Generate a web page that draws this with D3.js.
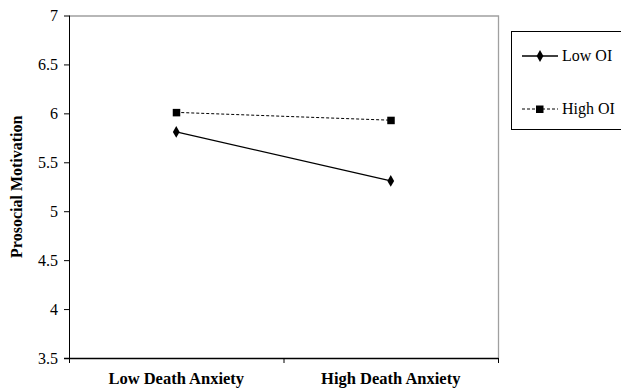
<!DOCTYPE html>
<html>
<head>
<meta charset="utf-8">
<script src="https://cdn.jsdelivr.net/npm/d3@7"></script>
<style>
  body { margin: 0; background: #fff; }
  svg { display: block; font-family: "Liberation Serif", "Times New Roman", serif; }
</style>
</head>
<body>
<div id="chart"></div>
<script>
// data
var categories = ["Low Death Anxiety", "High Death Anxiety"];
var lowOI = [5.81, 5.31];
var highOI = [6.01, 5.93];
var yTicks = [3.5, 4, 4.5, 5, 5.5, 6, 6.5, 7];
var seriesNames = ["Low OI", "High OI"];

var W = 621, H = 391;
var margin = {top: 15.5, left: 69, right: 123, bottom: 33};
var width = W - margin.left - margin.right,
    height = H - margin.top - margin.bottom;

var svg = d3.select("#chart").append("svg")
    .attr("width", W)
    .attr("height", H);

var g = svg.append("g")
    .attr("transform", "translate(" + margin.left + "," + margin.top + ")");

var x = d3.scaleBand().domain(categories).range([0, width]);
var y = d3.scaleLinear().domain([3.5, 7]).range([height, 0]);

// top / right frame in grey
g.append("path")
    .attr("d", "M0,0.5H" + (width + 0.5) + "V" + height)
    .attr("fill", "none")
    .attr("stroke", "#a0a0a0")
    .attr("stroke-width", 1.3);

// y axis
g.append("g")
    .call(d3.axisLeft(y).tickValues(yTicks).tickSize(5).tickPadding(6).tickFormat(d3.format("")))
    .call(g => g.select(".domain").attr("stroke", "#000").attr("d", "M0.5,0V" + height))
    .call(g => g.selectAll(".tick line").attr("stroke", "#000"))
    .call(g => g.selectAll(".tick text").attr("fill", "#000").style("font-size", "16px").style("font-family", "Liberation Serif"));

// x axis, ticks between categories
var xAx = g.append("g").attr("transform", "translate(0," + height + ")");
xAx.append("line")
    .attr("x1", -5).attr("x2", width + 0.5)
    .attr("y1", 0.5).attr("y2", 0.5)
    .attr("stroke", "#000").attr("stroke-width", 1.3);
xAx.selectAll(".xt")
    .data(d3.range(categories.length + 1))
    .enter().append("line")
    .attr("class", "xt")
    .attr("x1", d => d * x.step() + 0.5)
    .attr("x2", d => d * x.step() + 0.5)
    .attr("y1", 0).attr("y2", 5)
    .attr("stroke", "#000");
xAx.selectAll(".xl")
    .data(categories)
    .enter().append("text")
    .attr("x", d => x(d) + x.bandwidth() / 2)
    .attr("y", 26)
    .attr("text-anchor", "middle")
    .style("font-size", "16.5px")
    .style("font-weight", "bold")
    .text(d => d);

// y title
svg.append("text")
    .attr("transform", "translate(22," + (margin.top + height / 2) + ") rotate(-90)")
    .attr("text-anchor", "middle")
    .style("font-size", "16px")
    .style("font-weight", "bold")
    .text("Prosocial Motivation");

var cx = d => x(d) + x.bandwidth() / 2;
var line = d3.line().x(d => cx(d.c)).y(d => y(d.v));

var lowData = categories.map((c, i) => ({c: c, v: lowOI[i]}));
var highData = categories.map((c, i) => ({c: c, v: highOI[i]}));

g.append("path")
    .datum(lowData)
    .attr("d", line)
    .attr("fill", "none")
    .attr("stroke", "#000")
    .attr("stroke-width", 1.3);
g.append("path")
    .datum(highData)
    .attr("d", line)
    .attr("fill", "none")
    .attr("stroke", "#000")
    .attr("stroke-width", 1)
    .attr("stroke-dasharray", "3 2");

var diamond = d3.symbol().type(d3.symbolDiamond).size(40);
g.selectAll(".dlow")
    .data(lowData)
    .enter().append("path")
    .attr("d", diamond)
    .attr("transform", d => "translate(" + cx(d.c) + "," + y(d.v) + ")");
g.selectAll(".shigh")
    .data(highData)
    .enter().append("rect")
    .attr("x", d => cx(d.c) - 3.5)
    .attr("y", d => y(d.v) - 3.5)
    .attr("width", 7.5).attr("height", 7.5);

// legend
var leg = svg.append("g");
leg.append("rect")
    .attr("x", 511.5).attr("y", 31.5)
    .attr("width", 120).attr("height", 98)
    .attr("fill", "#fff")
    .attr("stroke", "#000");
var items = leg.selectAll(".item")
    .data(seriesNames)
    .enter().append("g")
    .attr("transform", (d, i) => "translate(522," + (56 + i * 53) + ")");
items.append("line")
    .attr("x1", 0).attr("x2", 36)
    .attr("stroke", "#000")
    .attr("stroke-width", (d, i) => i == 0 ? 1.3 : 1)
    .attr("stroke-dasharray", (d, i) => i == 0 ? null : "3 2");
items.each(function(d, i) {
    var it = d3.select(this);
    if (i == 0) it.append("path").attr("d", diamond).attr("transform", "translate(18,0)");
    else it.append("rect").attr("x", 14).attr("y", -3.5).attr("width", 7.5).attr("height", 7.5);
});
items.append("text")
    .attr("x", 40)
    .attr("y", 5)
    .style("font-size", "16px")
    .text(d => d);
</script>
</body>
</html>
